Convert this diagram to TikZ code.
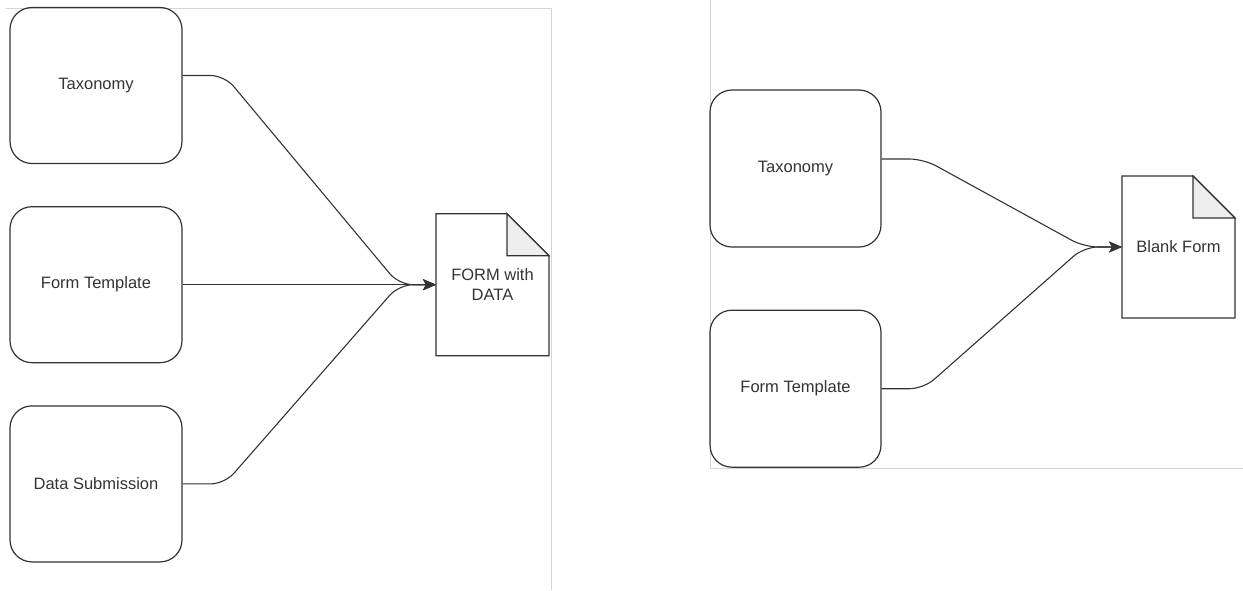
\documentclass[tikz,border=0pt]{standalone}
\usepackage{fontspec}
\setmainfont{Liberation Sans}
\usepackage{xcolor}
\usetikzlibrary{arrows.meta, positioning}

\definecolor{linegray}{HTML}{333333}
\definecolor{framegray}{HTML}{D4D4D4}
\definecolor{foldgray}{HTML}{EEEEEE}

\tikzset{
    box/.style={draw=linegray, line width=1.2pt, rounded corners=22pt, minimum width=172pt, minimum height=156pt, inner sep=0pt, text=linegray},
    docnode/.style={minimum width=113pt, minimum height=142pt, inner sep=0pt, outer sep=0pt, align=center, text=linegray},
    docline/.style={draw=linegray, line width=1.2pt, line join=miter},
    flow/.style={draw=linegray, line width=1.1pt, rounded corners=14pt, -{Stealth[length=13pt, width=11pt, inset=3pt]}},
    frame/.style={draw=framegray, line width=1pt}
}

\begin{document}
\begin{tikzpicture}[x=1pt, y=-1pt, font=\fontsize{16.5}{20}\selectfont]
    \useasboundingbox (0,0) rectangle (1243,590);
    % panel frames
    \draw[frame] (6,8) -- (551,8) -- (551,590);
    \draw[frame] (710,0) -- (710,468) -- (1243,468);

    % left: form with data
    \node[box] (T1) at (96,85.5) {Taxonomy};
    \node[box] (F1) [below=42pt of T1] {Form Template};
    \node[box] (S1) [below=42pt of F1] {Data Submission};
    \coordinate (J1x) at (399,0);
    \coordinate (J1) at (F1.east -| J1x);
    \node[docnode] (D1) [right=37pt of J1] {FORM with\\DATA};

    % right: blank form
    \node[box, minimum width=171pt, minimum height=157pt] (T2) at (795.5,168.5) {Taxonomy};
    \node[box, minimum width=171pt, minimum height=157pt] (F2) [below=62pt of T2] {Form Template};
    \node[docnode] (D2) at (1178.5,247) {Blank Form};
    \coordinate (J2) at (1084,247);

    % document outlines
    \foreach \d in {D1, D2} {
        \draw[docline] (\d.south west) -- (\d.north west) -- ([xshift=-42pt]\d.north east)
            -- ([yshift=-42pt]\d.north east) -- (\d.south east) -- cycle;
        \filldraw[docline, fill=foldgray] ([xshift=-42pt]\d.north east)
            -- ([xshift=-42pt, yshift=-42pt]\d.north east) -- ([yshift=-42pt]\d.north east) -- cycle;
    }

    % connectors
    \draw[flow] ([yshift=10pt]T1.east) -- ++(42,0) -- (J1) -- (D1.west);
    \draw[flow] (F1.east) -- (D1.west);
    \draw[flow] (S1.east) -- ++(42,0) -- (J1) -- (D1.west);
    \draw[flow] ([yshift=9.5pt]T2.east) -- ++(42,0) -- (J2) -- (D2.west);
    \draw[flow] (F2.east) -- ++(42,0) -- (J2) -- (D2.west);
\end{tikzpicture}
\end{document}
